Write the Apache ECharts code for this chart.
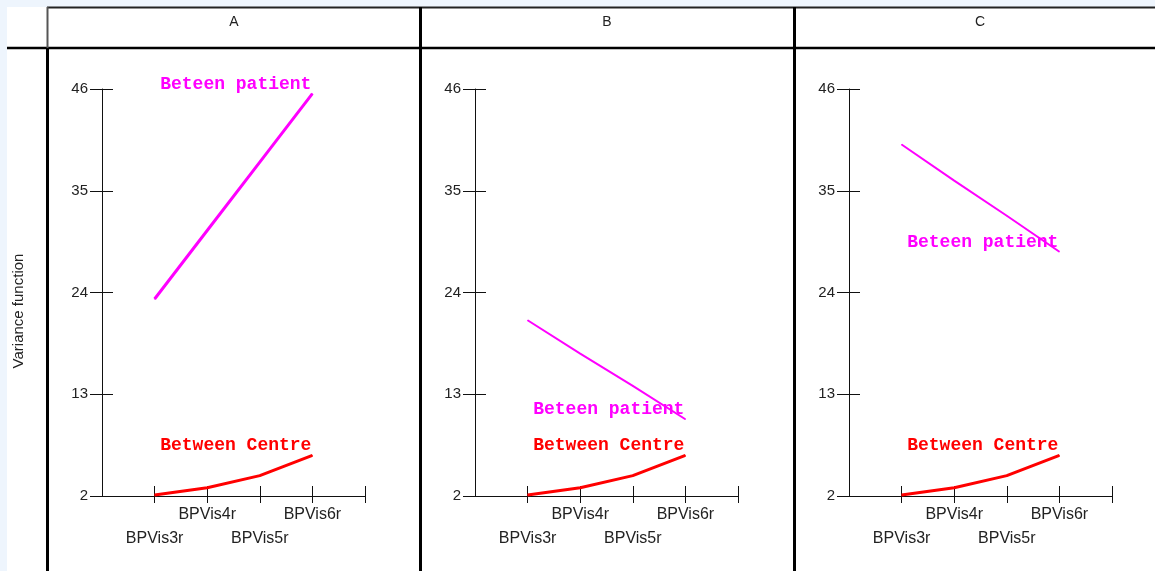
<!DOCTYPE html>
<html>
<head>
<meta charset="utf-8">
<script src="https://cdn.jsdelivr.net/npm/echarts@6/dist/echarts.min.js"></script>
<style>
html,body{margin:0;padding:0;background:#EEF5FD;}
#c{width:1155px;height:571px;}
</style>
</head>
<body>
<div id="c"></div>
<script>
// ---- data ----
const categories = ['BPVis3r', 'BPVis4r', 'BPVis5r', 'BPVis6r'];
const panels = ['A', 'B', 'C'];
const patientA = [23.3, 30.7, 38.1, 45.5];
const patientB = [21.0, 17.4, 13.9, 10.3];
const patientC = [40.0, 36.1, 32.3, 28.4];
const centreA = [2.1, 2.9, 4.2, 6.4];
const centreB = [2.1, 2.9, 4.2, 6.4];
const centreC = [2.1, 2.9, 4.2, 6.4];
const yMin = 2, yMax = 46, yStep = 11;
const yTitle = 'Variance function';
const patientLabel = 'Beteen patient';
const centreLabel = 'Between Centre';

const patientData = [patientA, patientB, patientC];
const centreData = [centreA, centreB, centreC];

// ---- layout ----
const gridLeft = [102, 475, 849];
const gridTop = 89, gridW = 263, gridH = 407;
const tickVals = [1, 2, 3, 4, 5];
const labelVals = [1, 2, 3, 4];
const axisColor = '#111';
const textColor = '#222';
const sans = 'Liberation Sans, Arial, sans-serif';
const mono = 'Liberation Mono, Courier New, monospace';

const grids = [], xAxes = [], yAxes = [], series = [];
panels.forEach((p, i) => {
  grids.push({left: gridLeft[i], top: gridTop, width: gridW, height: gridH, containLabel: false});
});
panels.forEach((p, i) => {
  grids.push({left: gridLeft[i], top: gridTop, width: gridW, height: gridH, containLabel: false});
});

panels.forEach((p, i) => {
  xAxes.push({
    type: 'value', gridIndex: i, min: 0, max: 5, interval: 1,
    axisLine: {show: true, onZero: false, lineStyle: {color: axisColor, width: 1}},
    axisTick: {show: true, inside: false, length: 7, customValues: tickVals, lineStyle: {color: axisColor}},
    splitLine: {show: false},
    axisLabel: {
      show: true, margin: 11, customValues: labelVals, color: textColor, fontFamily: sans, fontSize: 16,
      formatter: v => (v % 2 === 1 ? '{lo|' : '{hi|') + categories[v - 1] + '}',
      rich: {
        lo: {padding: [24, 0, 0, 0], fontFamily: sans, fontSize: 16, color: textColor},
        hi: {fontFamily: sans, fontSize: 16, color: textColor}
      }
    }
  });
  yAxes.push({
    type: 'value', gridIndex: i, min: yMin, max: yMax, interval: yStep,
    axisLine: {show: true, onZero: false, lineStyle: {color: axisColor, width: 1}},
    axisTick: {show: true, inside: false, length: 12, lineStyle: {color: axisColor}},
    splitLine: {show: false},
    axisLabel: {show: true, margin: 14, color: textColor, fontFamily: sans, fontSize: 15}
  });
});
// overlay axes: inward ticks so ticks cross the axis lines
panels.forEach((p, i) => {
  xAxes.push({
    type: 'value', gridIndex: i + 3, min: 0, max: 5, interval: 1,
    axisLine: {show: false, onZero: false},
    axisTick: {show: true, inside: true, length: 10, customValues: tickVals, lineStyle: {color: axisColor}},
    splitLine: {show: false}, axisLabel: {show: false}
  });
  yAxes.push({
    type: 'value', gridIndex: i + 3, min: yMin, max: yMax, interval: yStep,
    axisLine: {show: false, onZero: false},
    axisTick: {show: true, inside: true, length: 11, lineStyle: {color: axisColor}},
    splitLine: {show: false}, axisLabel: {show: false}
  });
});

function makeSeries(i, values, color, width, text) {
  return {
    type: 'line', xAxisIndex: i, yAxisIndex: i,
    data: values.map((v, j) => ({value: [j + 1, v], label: {show: j === values.length - 1}})),
    showSymbol: true, symbol: 'circle', symbolSize: 1,
    itemStyle: {color: color},
    lineStyle: {color: color, width: width},
    label: {
      show: false, formatter: text, position: 'top', align: 'right', verticalAlign: 'middle',
      distance: 9, offset: [-1, 0],
      color: color, fontFamily: mono, fontWeight: 'bold', fontSize: 18
    },
    emphasis: {disabled: true}, silent: true, z: 3
  };
}
panels.forEach((p, i) => {
  series.push(makeSeries(i, patientData[i], '#FF00FF', i === 0 ? 3 : 2, patientLabel));
  series.push(makeSeries(i, centreData[i], '#FF0000', 3, centreLabel));
});

// frame (table) graphics
const frame = [
  {type: 'rect', shape: {x: 7, y: 7, width: 1148, height: 564}, style: {fill: '#ffffff'}, z: -10},
  {type: 'line', shape: {x1: 47, y1: 7.5, x2: 1155, y2: 7.5}, style: {stroke: '#222', lineWidth: 2}},
  {type: 'line', shape: {x1: 7, y1: 48, x2: 1155, y2: 48}, style: {stroke: '#000', lineWidth: 2.5}},
  {type: 'line', shape: {x1: 47.5, y1: 7, x2: 47.5, y2: 48}, style: {stroke: '#555', lineWidth: 2}},
  {type: 'line', shape: {x1: 47.5, y1: 48, x2: 47.5, y2: 571}, style: {stroke: '#000', lineWidth: 3}},
  {type: 'line', shape: {x1: 420.5, y1: 7, x2: 420.5, y2: 571}, style: {stroke: '#000', lineWidth: 3}},
  {type: 'line', shape: {x1: 794.5, y1: 7, x2: 794.5, y2: 571}, style: {stroke: '#000', lineWidth: 3}},
  {type: 'text', x: 19, y: 311, rotation: Math.PI / 2,
   style: {text: yTitle, fill: textColor, font: '15px ' + sans, textAlign: 'center', textVerticalAlign: 'middle'}}
];
const headerX = [234, 607, 980];
panels.forEach((p, i) => {
  frame.push({type: 'text', x: headerX[i], y: 22, style: {text: p, fill: textColor, font: '14px ' + sans, textAlign: 'center', textVerticalAlign: 'middle'}});
});

const chart = echarts.init(document.getElementById('c'), null, {renderer: 'canvas'});
chart.setOption({
  animation: false,
  backgroundColor: '#EEF5FD',
  grid: grids, xAxis: xAxes, yAxis: yAxes, series: series,
  graphic: frame
});
</script>
</body>
</html>
